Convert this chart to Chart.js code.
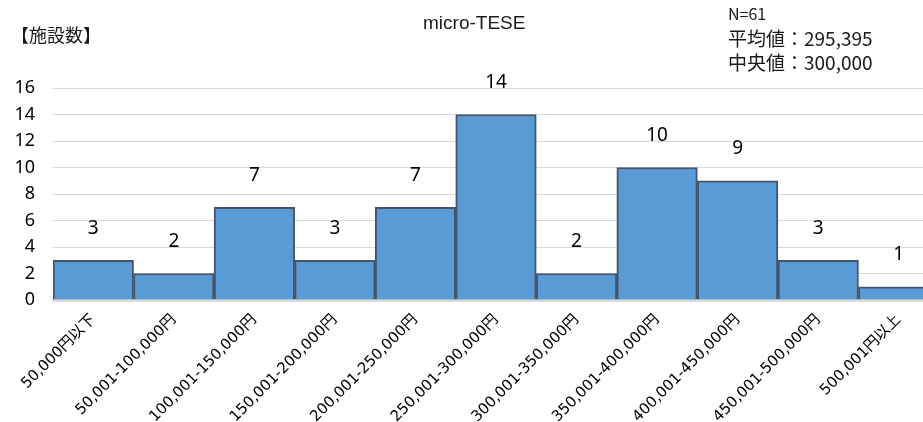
<!DOCTYPE html>
<html>
<head>
<meta charset="utf-8">
<script src="https://cdn.jsdelivr.net/npm/chart.js@4"></script>
<style>
  html, body { margin: 0; padding: 0; background: #fff; overflow: hidden; }
  #wrap { position: relative; width: 923px; height: 422px; overflow: hidden; }
  #chartBox { position: absolute; left: 0; top: 0; width: 940px; height: 422px; }
  .txt { position: absolute; color: #1a1a1a; white-space: nowrap; font-family: 'Noto Sans CJK JP', sans-serif; }
</style>
</head>
<body>
<div id="wrap">
  <div id="chartBox"><canvas id="chartHist"></canvas></div>
  <div class="txt" style="left:11px; top:21px; font-size:18px;">【施設数】</div>
  <div class="txt" style="left:423px; top:12px; font-size:19px; font-family:'Liberation Sans', Arial, sans-serif;">micro-TESE</div>
  <div class="txt" style="left:728px; top:2px; font-size:16px; line-height:22px;">N=61</div>
  <div class="txt" style="left:728px; top:26px; font-size:19px; line-height:24px;">平均値：295,395<br>中央値：300,000</div>
</div>
<script>
document.addEventListener('DOMContentLoaded', function () {

  // ===== Data =====
  const categories = [
    '50,000円以下',
    '50,001-100,000円',
    '100,001-150,000円',
    '150,001-200,000円',
    '200,001-250,000円',
    '250,001-300,000円',
    '300,001-350,000円',
    '350,001-400,000円',
    '400,001-450,000円',
    '450,001-500,000円',
    '500,001円以上',
  ];
  const facilityCounts = [3, 2, 7, 3, 7, 14, 2, 10, 9, 3, 1];
  const yTicks = [0, 2, 4, 6, 8, 10, 12, 14, 16];

  // ===== Value labels above bars =====
  const valueLabels = {
    id: 'valueLabels',
    afterDatasetsDraw(chart) {
      const ctx = chart.ctx;
      const meta = chart.getDatasetMeta(0);
      ctx.save();
      ctx.font = "19px 'Noto Sans', sans-serif";
      ctx.fillStyle = '#000';
      ctx.textAlign = 'center';
      ctx.textBaseline = 'middle';
      meta.data.forEach((bar, i) => {
        ctx.fillText(String(facilityCounts[i]), bar.x, bar.y - 32);
      });
      ctx.restore();
    },
  };

  const ctxHist = document.getElementById('chartHist').getContext('2d');
  new Chart(ctxHist, {
    type: 'bar',
    data: {
      labels: categories,
      datasets: [{
        data: facilityCounts,
        backgroundColor: '#5b9bd5',
        borderColor: '#44546a',
        borderWidth: 2,
        borderSkipped: 'bottom',
        categoryPercentage: 1,
        barPercentage: 1,
      }],
    },
    options: {
      responsive: true,
      maintainAspectRatio: false,
      animation: false,
      layout: { padding: { top: 88, right: 1, left: 0, bottom: 0 } },
      plugins: {
        legend: { display: false },
        tooltip: { enabled: false },
      },
      scales: {
        x: {
          grid: { display: false },
          border: { display: true, color: '#d9d9d9', width: 3 },
          ticks: {
            autoSkip: false,
            maxRotation: 45,
            minRotation: 45,
            padding: 3,
            color: '#000',
            font: { family: "'DejaVu Sans', 'Noto Sans CJK JP', sans-serif", size: 15 },
          },
          afterFit: scale => { scale.height = 122; },
        },
        y: {
          min: 0,
          max: 16,
          afterBuildTicks: scale => { scale.ticks = yTicks.map(v => ({ value: v })); },
          grid: { color: '#d9d9d9', lineWidth: 1, drawTicks: false },
          border: { display: false },
          ticks: {
            padding: 18,
            color: '#000',
            font: { family: "'Noto Sans', sans-serif", size: 18 },
          },
          afterFit: scale => { scale.width = 53; },
        },
      },
    },
    plugins: [valueLabels],
  });

});
</script>
</body>
</html>
